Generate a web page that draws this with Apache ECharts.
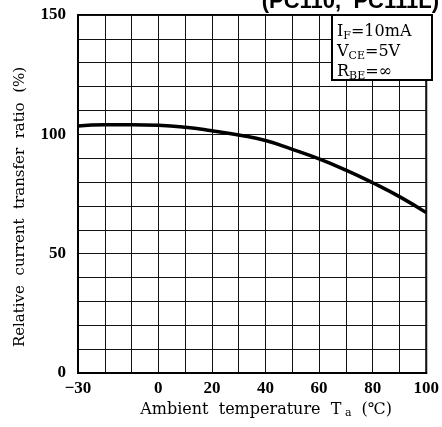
<!DOCTYPE html>
<html>
<head>
<meta charset="utf-8">
<script src="https://cdn.jsdelivr.net/npm/echarts@6/dist/echarts.min.js"></script>
<style>
html,body{margin:0;padding:0;background:#fff;}
#c{width:442px;height:427px;}
</style>
</head>
<body>
<div id="c"></div>
<script>
// Data
var temperatures = [-30, -20, -10, 0, 10, 20, 30, 40, 50, 60, 70, 80, 90, 100];
var ratioValues = [103.5, 104, 104, 103.8, 103, 101.5, 99.7, 97.4, 93.7, 89.7, 85, 79.7, 73.9, 67.2];
var xTickLabels = [-30, 0, 20, 40, 60, 80, 100];
var yTickLabels = [0, 50, 100, 150];

var chart = echarts.init(document.getElementById('c'), null, {renderer: 'canvas'});
var seriesData = temperatures.map(function (t, i) { return [t, ratioValues[i]]; });

var serif = '"DejaVu Serif", serif';
var tickFont = '"Liberation Serif", "Times New Roman", serif';

chart.setOption({
  backgroundColor: '#fff',
  animation: false,
  grid: {left: 78, right: 10, top: 15, bottom: 54, show: true, borderColor: '#000', borderWidth: 2, backgroundColor: 'transparent'},
  xAxis: {
    type: 'value', min: -30, max: 100, interval: 10,
    axisLine: {show: true, onZero: false, lineStyle: {color: '#000', width: 2}},
    axisTick: {show: false},
    splitLine: {show: true, lineStyle: {color: '#111', width: 1}},
    axisLabel: {
      color: '#000', fontFamily: tickFont, fontWeight: 'bold', fontSize: 17, margin: 7,
      showMinLabel: true, showMaxLabel: true,
      formatter: function (v) {
        if (xTickLabels.indexOf(v) < 0) return '';
        return v < 0 ? '\u2212' + (-v) : String(v);
      }
    },
    name: '{n|Ambient  temperature  T}{s| a}{n|  (\u2103)}',
    nameLocation: 'middle', nameGap: 28,
    nameTextStyle: {
      padding: [0, 0, 0, 28],
      rich: {
        n: {fontFamily: serif, fontSize: 16, color: '#000', lineHeight: 18},
        s: {fontFamily: serif, fontSize: 11, color: '#000', verticalAlign: 'bottom', lineHeight: 10}
      }
    }
  },
  yAxis: {
    type: 'value', min: 0, max: 150, interval: 10,
    axisLine: {show: true, onZero: false, lineStyle: {color: '#000', width: 2}},
    axisTick: {show: false},
    splitLine: {show: true, lineStyle: {color: '#111', width: 1}},
    axisLabel: {
      color: '#000', fontFamily: tickFont, fontWeight: 'bold', fontSize: 17, margin: 12,
      showMinLabel: true, showMaxLabel: true,
      formatter: function (v) { return yTickLabels.indexOf(v) >= 0 ? String(v) : ''; }
    },
    name: 'Relative  current  transfer  ratio  (%)',
    nameLocation: 'middle', nameGap: 50, nameRotate: 90,
    nameTextStyle: {fontFamily: serif, fontSize: 15, color: '#000', padding: [0, 26, 0, 0]}
  },
  graphic: [
    {
      type: 'text', right: 3, top: -9, z: 100,
      style: {text: '(PC110,  PC111L)', font: 'bold 22px "Liberation Sans", Arial, sans-serif', fill: '#000'}
    },
    {
      type: 'rect', z: 50,
      shape: {x: 332, y: 15, width: 100, height: 65},
      style: {fill: '#fff', stroke: '#000', lineWidth: 2}
    },
    {
      type: 'text', z: 60, x: 337, y: 22,
      style: {
        text: '{n|I}{s|F}{n|=10mA}\n{n|V}{s|CE}{n|=5V}\n{n|R}{s|BE}{n|=\u221e}',
        rich: {
          n: {fontFamily: serif, fontSize: 16, fill: '#000', lineHeight: 20},
          s: {fontFamily: serif, fontSize: 11, fill: '#000', verticalAlign: 'bottom', lineHeight: 10}
        }
      }
    }
  ],
  series: [{
    type: 'line', data: seriesData, smooth: true, showSymbol: false,
    lineStyle: {color: '#000', width: 3.5}, z: 10
  }]
});
</script>
</body>
</html>
